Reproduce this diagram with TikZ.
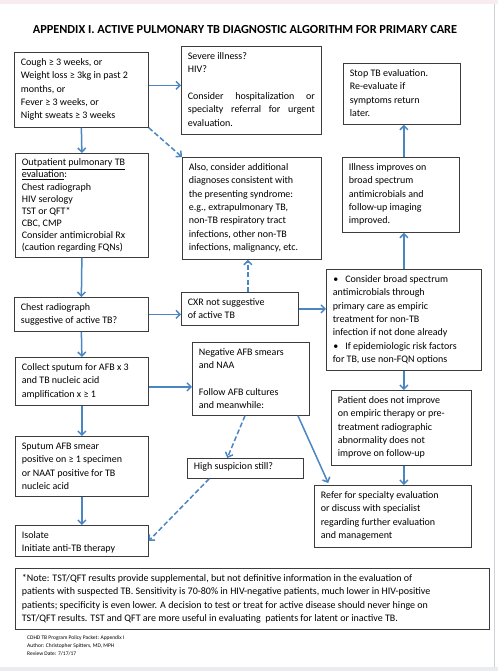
\documentclass[tikz,border=0pt]{standalone}
\usepackage{fontspec}
\setmainfont{Carlito}
\usetikzlibrary{arrows.meta,calc}
\definecolor{bordergray}{RGB}{60,60,60}
\definecolor{arrblue}{RGB}{74,134,193}
\definecolor{toppink}{RGB}{248,236,240}
\definecolor{edgegray}{RGB}{205,208,214}
\definecolor{botgray}{RGB}{234,236,240}
\newcommand{\bt}[3]{\parbox[c][\dimexpr #2pt-8pt\relax][t]{\dimexpr #1pt-13pt\relax}{\raggedright\strut #3}}
\newcommand{\btj}[3]{\parbox[c][\dimexpr #2pt-8pt\relax][t]{\dimexpr #1pt-13pt\relax}{\strut #3}}
\newcommand{\bul}{\hangindent=12.5pt\hangafter=1\noindent\makebox[12.5pt][l]{\hspace{0.5pt}\textbullet}}
\begin{document}
\begin{tikzpicture}[x=1pt,y=-1pt,
  box/.style={draw=bordergray, line width=0.75pt, anchor=north west, inner xsep=6.5pt, inner ysep=4pt, fill=white, font=\fontsize{10}{13.3}\selectfont},
  arr/.style={draw=arrblue, line width=1.5pt, -{Straight Barb[length=4pt,width=8pt]}},
  dasharr/.style={arr, dash pattern=on 5pt off 2.5pt}]
\useasboundingbox (0,0) rectangle (498,671);
\fill[white] (0,0) rectangle (498,671);
\fill[toppink] (0,0) rectangle (498,4);
\fill[botgray] (0,667) rectangle (498,671);
\draw[edgegray, line width=0.8pt] (494,4) -- (494,667);

\node[anchor=center, font=\bfseries\fontsize{12.3}{14}\selectfont] (title) at (245,30) {APPENDIX I. ACTIVE PULMONARY TB DIAGNOSTIC ALGORITHM FOR PRIMARY CARE};

\node[box] (b1) at (14,52) {\bt{134}{75}{Cough ≥ 3 weeks, or\\Weight loss ≥ 3kg in past 2\\months, or\\Fever ≥ 3 weeks, or\\Night sweats ≥ 3 weeks}};
\node[box] (b2) at (181,46) {\btj{140}{88}{Severe illness?\\HIV?\\[\baselineskip]Consider hospitalization or\linebreak specialty referral for urgent\linebreak evaluation.}};
\node[box] (b3) at (343,63) {\bt{117}{61}{Stop TB evaluation.\\Re-evaluate if\\symptoms return\\later.}};
\node[box, font=\fontsize{10}{12.1}\selectfont] (b4) at (15,153) {\bt{133}{104}{\underline{Outpatient pulmonary TB}\\\underline{evaluation}:\\Chest radiograph\\HIV serology\\TST or QFT*\\CBC, CMP\\Consider antimicrobial Rx\\(caution regarding FQNs)}};
\node[box] (b5) at (182,157) {\bt{139}{102}{Also, consider additional\\diagnoses consistent with\\the presenting syndrome:\\e.g., extrapulmonary TB,\\non-TB respiratory tract\\infections, other non-TB\\infections, malignancy, etc.}};
\node[box] (b6) at (342,157) {\bt{117}{75}{Illness improves on\\broad spectrum\\antimicrobials and\\follow-up imaging\\improved.}};
\node[box] (b7) at (14,297) {\bt{134}{34}{Chest radiograph\\suggestive of active TB?}};
\node[box] (b8) at (181,292) {\bt{117}{33}{CXR not suggestive\\of active TB}};
\node[box] (b9) at (326,269) {\bt{155}{101}{\bul Consider broad spectrum\\antimicrobials through\\primary care as empiric\\treatment for non-TB\\infection if not done already\par
\bul If epidemiologic risk factors\\for TB, use non-FQN options}};
\node[box] (b10) at (15,357) {\bt{133}{48}{Collect sputum for AFB x 3\\and TB nucleic acid\\amplification x ≥ 1}};
\node[box] (b11) at (192,342) {\bt{117}{73}{Negative AFB smears\\and NAA\\[\baselineskip]Follow AFB cultures\\and meanwhile:}};
\node[box] (b12) at (331,390) {\bt{140}{75}{Patient does not improve\\on empiric therapy or pre-\\treatment radiographic\\abnormality does not\\improve on follow-up}};
\node[box] (b13) at (15,436) {\bt{133}{60}{Sputum AFB smear\\positive on ≥ 1 specimen\\or NAAT positive for TB\\nucleic acid}};
\node[box, inner ysep=2pt] (b14) at (187,458) {\parbox[c][16pt][t]{103pt}{\strut High suspicion still?}};
\node[box] (b15) at (314,485) {\bt{157}{62}{Refer for specialty evaluation\\or discuss with specialist\\regarding further evaluation\\and management}};
\node[box] (b16) at (15,525) {\bt{133}{31}{Isolate\\Initiate anti-TB therapy}};
\node[box] (b17) at (15,568) {\bt{474}{61}{*Note: TST/QFT results provide supplemental, but not definitive information in the evaluation of\\patients with suspected TB. Sensitivity is 70-80\% in HIV-negative patients, much lower in HIV-positive\\patients; specificity is even lower. A decision to test or treat for active disease should never hinge on\\TST/QFT results. TST and QFT are more useful in evaluating~ patients for latent or inactive TB.}};

\node[anchor=north west, inner sep=0pt, align=left, font=\fontsize{5.5}{8.4}\selectfont] (foot) at (27,635) {CDHD TB Program Policy Packet: Appendix I\\Author: Christopher Spitters, MD, MPH\\Review Date: 7/17/17};

% connectors
\draw[arr] ([yshift=4.5pt]b1.east) -- ([yshift=4.5pt]b1.east -| b2.west);
\draw[arr] (b1.south) -- (b4.north);
\draw[dasharr] (b1.south east) -- (b5.north west);
\draw[arr] (b4.south) -- (b7.north);
\draw[arr] (b7.east) -- (b7.east -| b8.west);
\draw[dasharr] ([xshift=8pt]b8.north) -- ([xshift=8pt]b8.north |- b5.south);
\draw[arr] (b8.east) -- (b8.east -| b9.west);
\draw[arr] (b9.north) -- (b9.north |- b6.south);
\draw[arr] ([xshift=3pt]b6.north) -- ([xshift=3pt]b6.north |- b3.south);
\draw[arr] (b7.south) -- (b10.north);
\draw[arr] ([yshift=-5.5pt]b10.east) -- ([yshift=-5.5pt]b10.east -| b11.west);
\draw[arr] (b10.south) -- (b13.north);
\draw[dasharr] ($(b11.south west)!0.45!(b11.south east)$) -- ($(b14.north west)!0.345!(b14.north east)$);
\draw[arr] ($(b11.south west)!0.9!(b11.south east)$) -- ([yshift=2pt]$(b15.north west)!0.09!(b15.north east)$);
\draw[arr] (b9.south) -- (b9.south |- b12.north);
\draw[arr] (b9.south |- b12.south) -- (b9.south |- b15.north);
\draw[dasharr] ($(b14.south west)!0.19!(b14.south east)$) -- (b16.east);
\draw[arr] (b13.south) -- (b16.north);
\end{tikzpicture}
\end{document}
